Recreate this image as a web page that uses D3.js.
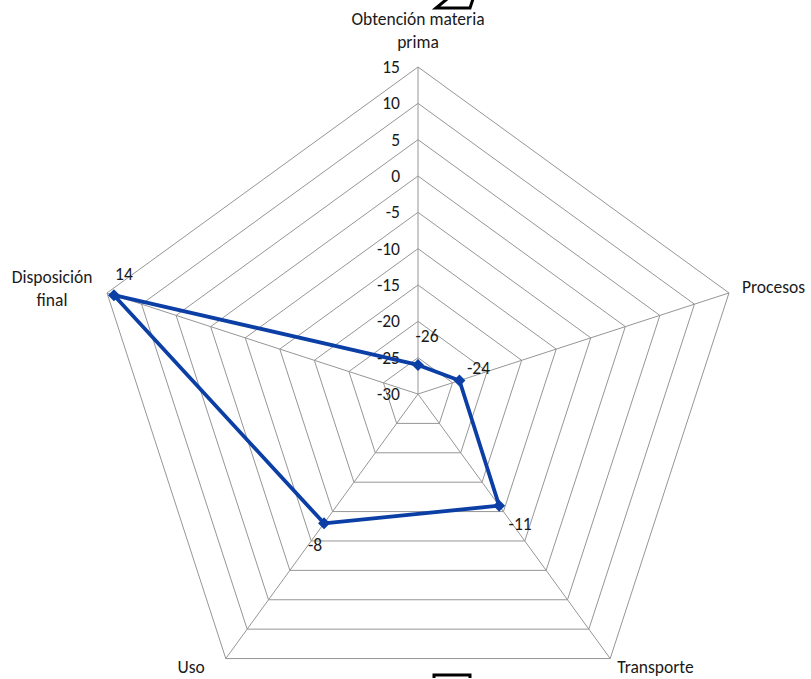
<!DOCTYPE html>
<html>
<head>
<meta charset="utf-8">
<script src="https://cdn.jsdelivr.net/npm/d3@7"></script>
<style>
  html, body { margin: 0; padding: 0; background: #fff; }
  svg { display: block; }
  text { font-family: Carlito, Calibri, Lato, "Open Sans", sans-serif; fill: #1a1a1a; }
</style>
</head>
<body>
<svg id="chart" width="811" height="679"></svg>
<script>
// Life-cycle stages (one spoke each) and their scores
const categories = [["Obtención materia", "prima"], ["Procesos"], ["Transporte"], ["Uso"], ["Disposición", "final"]];
const values = [-26, -24, -11, -8, 14];
const tickValues = [-30, -25, -20, -15, -10, -5, 0, 5, 10, 15];

const cx = 418, cy = 394, R = 327;
const fontSize = 17.5;
const svg = d3.select("#chart");

const r = d3.scaleLinear().domain([-30, 15]).range([0, R]);
const angle = d3.scalePoint().domain(d3.range(categories.length + 1)).range([0, 2 * Math.PI]);
const pt = (i, v) => {
  const a = angle(i) - Math.PI / 2;
  return [cx + r(v) * Math.cos(a), cy + r(v) * Math.sin(a)];
};

const g = svg.append("g");

// concentric pentagon rings
tickValues.slice(1).forEach(t => {
  g.append("path")
    .attr("d", d3.line()(categories.map((c, i) => pt(i, t))) + "Z")
    .attr("fill", "none").attr("stroke", "#969696").attr("stroke-width", 1);
});

// spokes
categories.forEach((c, i) => {
  const [x, y] = pt(i, 15);
  g.append("line").attr("x1", cx).attr("y1", cy).attr("x2", x).attr("y2", y)
    .attr("stroke", "#969696").attr("stroke-width", 1);
});

// radial axis labels along the top spoke
g.selectAll(".tick").data(tickValues).join("text")
  .attr("x", cx - 18).attr("y", d => cy - r(d))
  .attr("dy", "0.35em").attr("text-anchor", "end")
  .attr("font-size", fontSize)
  .text(d => d);

// category labels
const catLayout = [
  { dx: 0, dy: -48, anchor: "middle" },
  { dx: 13, dy: -6, anchor: "start" },
  { dx: 7, dy: 8, anchor: "start" },
  { dx: -21, dy: 8, anchor: "end" },
  { dx: -55, dy: -16, anchor: "middle" }
];
categories.forEach((lines, i) => {
  const [x, y] = pt(i, 15);
  const L = catLayout[i];
  const t = g.append("text").attr("font-size", fontSize).attr("text-anchor", L.anchor);
  lines.forEach((s, k) => {
    t.append("tspan").attr("x", x + L.dx).attr("y", y + L.dy + k * 23).attr("dy", "0.35em").text(s);
  });
});

// data series
const pts = values.map((v, i) => pt(i, v));
g.append("path")
  .attr("d", d3.line()(pts) + "Z")
  .attr("fill", "none").attr("stroke", "#0b3fa6").attr("stroke-width", 3.8)
  .attr("stroke-linejoin", "round");

g.selectAll(".mark").data(pts).join("path")
  .attr("transform", d => `translate(${d[0]},${d[1]}) rotate(45)`)
  .attr("d", d3.symbol().type(d3.symbolSquare).size(72))
  .attr("fill", "#0b3fa6");

// value labels
const valOffset = [[9, -29], [19, -13], [21, 18], [-9, 22], [10, -21]];
g.selectAll(".val").data(values).join("text")
  .attr("x", (d, i) => pts[i][0] + valOffset[i][0])
  .attr("y", (d, i) => pts[i][1] + valOffset[i][1])
  .attr("dy", "0.35em").attr("text-anchor", "middle")
  .attr("font-size", fontSize)
  .text(d => d);

// summation glyph fragments at the top and bottom edges
svg.append("path")
  .attr("d", "M447,-1 L436,8 L470,8 L473,-1")
  .attr("fill", "none").attr("stroke", "#000").attr("stroke-width", 3).attr("stroke-linejoin", "miter");
svg.append("path")
  .attr("d", "M434,678 L434,675 L470,675 L470,678")
  .attr("fill", "none").attr("stroke", "#000").attr("stroke-width", 3);
</script>
</body>
</html>
